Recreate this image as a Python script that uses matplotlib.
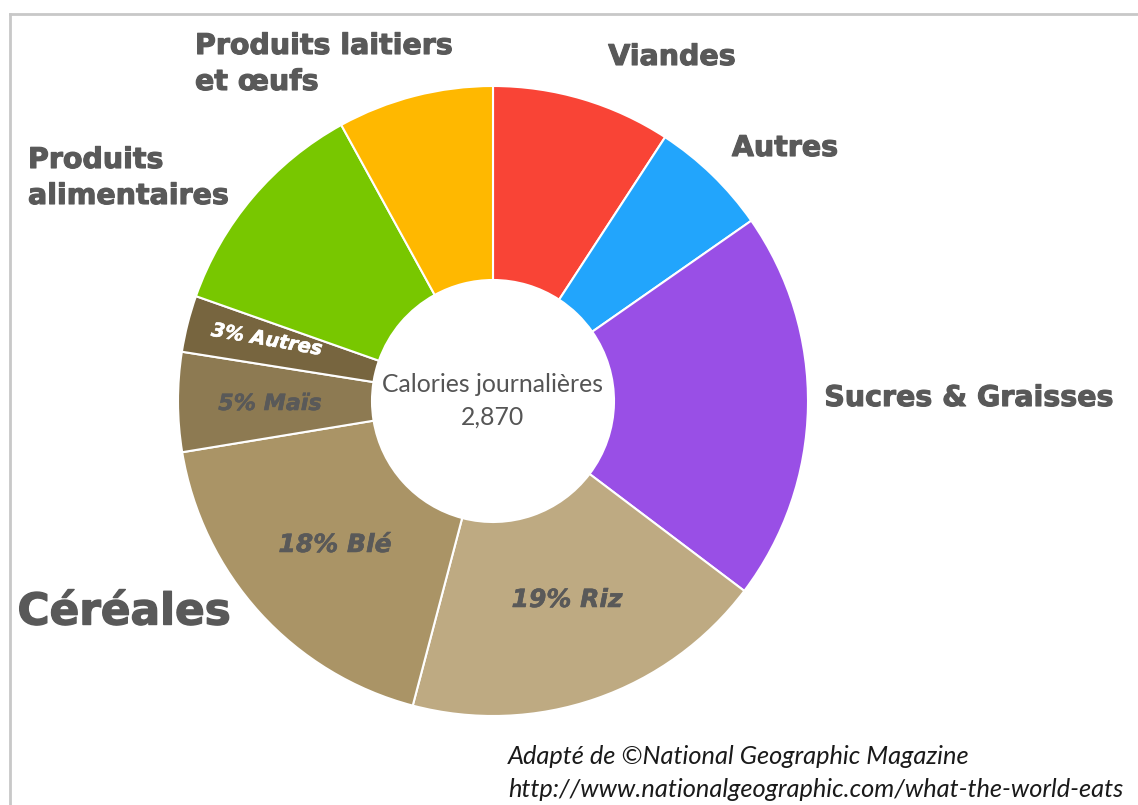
import matplotlib.pyplot as plt
import matplotlib.patheffects as pe
from matplotlib.lines import Line2D

# Data (share of daily calories, %), clockwise from 12 o'clock
categories = ['Viandes', 'Autres', 'Sucres & Graisses', 'Riz', 'Blé', 'Maïs',
              'Autres céréales', 'Produits alimentaires', 'Produits laitiers et œufs']
shares = [9.2, 6.1, 20.0, 18.8, 18.3, 5.1, 2.9, 11.6, 8.0]
colors = ['#F94436', '#22A5FC', '#994FE6', '#BEAA82', '#AA9466',
          '#8D7A52', '#77653F', '#78C700', '#FFB800']
total_calories = '2,870'

W, H = 1138, 805
fig = plt.figure(figsize=(W / 100, H / 100), dpi=100)
ax = fig.add_axes([0, 0, 1, 1])

def Y(y):
    return H - y

# frame lines (top and left)
fig.add_artist(Line2D([10 / W, 1], [Y(14) / H] * 2, color='#C8C8C8', lw=2))
fig.add_artist(Line2D([10 / W] * 2, [0, Y(14) / H], color='#C8C8C8', lw=2))

cx, cy, r = 493, 401, 315
ax.pie(shares, colors=colors, center=(cx, Y(cy)), radius=r,
       startangle=90, counterclock=False, frame=True,
       wedgeprops=dict(width=r - 121, edgecolor='white', linewidth=1.5))
ax.set_xlim(0, W)
ax.set_ylim(0, H)
ax.set_aspect('equal')
ax.axis('off')

grey = '#595959'
heavy = [pe.withStroke(linewidth=0.8, foreground=grey)]
lab = dict(color=grey, fontweight='bold', family='DejaVu Sans', fontsize=20.5,
           path_effects=heavy)

ax.text(195, Y(46), 'Produits laitiers', ha='left', va='center', **lab)
ax.text(195, Y(82), 'et œufs', ha='left', va='center', **lab)
ax.text(28, Y(160), 'Produits', ha='left', va='center', **lab)
ax.text(28, Y(196), 'alimentaires', ha='left', va='center', **lab)
ax.text(672, Y(57), 'Viandes', ha='center', va='center', **lab)
ax.text(785, Y(148), 'Autres', ha='center', va='center', **lab)
ax.text(969, Y(398), 'Sucres & Graisses', ha='center', va='center', **lab)
ax.text(124, Y(612), 'Céréales', ha='center', va='center', color=grey,
        fontweight='bold', family='DejaVu Sans', fontsize=31.5,
        path_effects=[pe.withStroke(linewidth=1.0, foreground=grey)])

inner = dict(color=grey, fontweight='bold', style='italic', family='DejaVu Sans',
             ha='center', va='center',
             path_effects=[pe.withStroke(linewidth=0.4, foreground=grey)])
ax.text(335, Y(545), '18% Blé', fontsize=18, **inner)
ax.text(567, Y(600), '19% Riz', fontsize=18, **inner)
ax.text(270, Y(404), '5% Maïs', fontsize=16, **inner)
ax.text(267, Y(340), '3% Autres', fontsize=14, rotation=-10,
        color='white', fontweight='bold', style='italic', family='DejaVu Sans',
        ha='center', va='center', rotation_mode='anchor',
        path_effects=[pe.withStroke(linewidth=0.4, foreground='white')])

ax.text(cx, Y(385), 'Calories journalières', ha='center', va='center',
        color='#555555', family='Lato', fontsize=17.8)
ax.text(cx, Y(417), total_calories, ha='center', va='center',
        color='#555555', family='Lato', fontsize=17.8)

ax.text(508, Y(757), 'Adapté de ©National Geographic Magazine', ha='left',
        va='center', color='#1A1A1A', family='Lato', style='italic', fontsize=18.3)
ax.text(508, Y(789), 'http://www.nationalgeographic.com/what-the-world-eats',
        ha='left', va='center', color='#1A1A1A', family='Lato', style='italic',
        fontsize=18.3)

fig.savefig('out.png', dpi=100)
